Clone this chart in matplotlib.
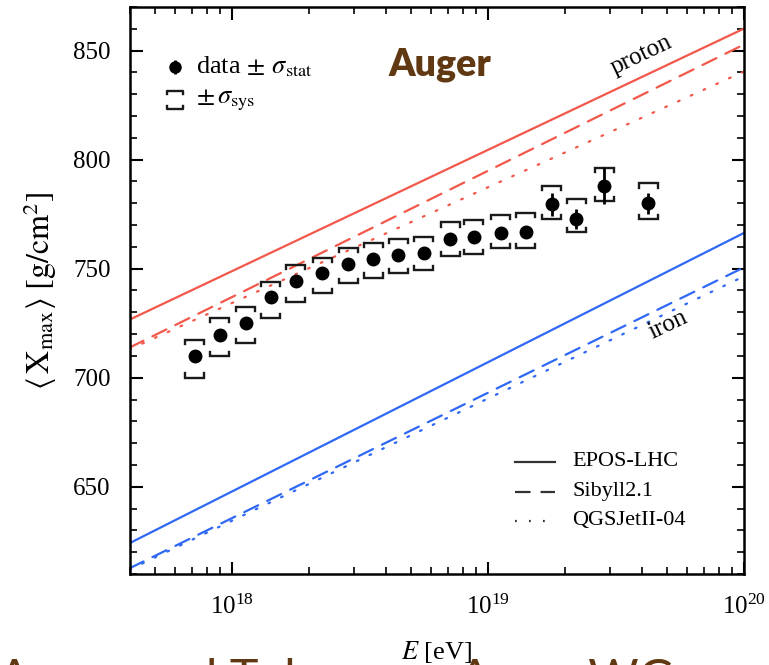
import numpy as np
import matplotlib
matplotlib.use("Agg")
import matplotlib.pyplot as plt
from matplotlib.ticker import MultipleLocator, LogLocator, NullFormatter

plt.rcParams['font.family'] = ['Liberation Serif', 'DejaVu Serif']
plt.rcParams['mathtext.fontset'] = 'stix'

# Auger <Xmax> measurements per energy bin
lg_energy = [17.855, 17.953, 18.054, 18.152, 18.25, 18.353, 18.454, 18.552, 18.65,
             18.75, 18.852, 18.945, 19.05, 19.148, 19.25, 19.344, 19.454, 19.626]
xmax_mean = [709.8, 719.8, 725.1, 736.9, 744.3, 747.8, 752.0, 754.3, 756.1,
             757.3, 763.8, 764.7, 766.2, 767.0, 779.5, 773.0, 788.0, 779.9]
stat_err = [1.5, 1.5, 1.5, 1.5, 1.5, 1.5, 1.5, 1.6, 1.7,
            1.8, 2.0, 2.2, 2.5, 2.7, 5.4, 4.6, 8.5, 5.0]
sys_up = [7.7, 7.7, 7.4, 6.9, 7.4, 7.2, 7.4, 7.4, 7.4,
          7.4, 7.4, 7.6, 8.4, 8.7, 8.4, 8.9, 8.4, 9.2]
sys_low = [9.7, 9.7, 9.2, 9.5, 9.5, 8.9, 8.4, 8.4, 8.3,
           8.0, 8.0, 7.8, 6.9, 7.4, 6.9, 6.3, 6.9, 7.2]

# Hadronic interaction model predictions (proton and iron)
lg_model = [17.6, 20.0]
p_epos = [726.6, 860.1]
p_sibyll = [713.8, 852.8]
p_qgsjet = [713.0, 840.4]
fe_epos = [624.1, 766.4]
fe_sibyll = [612.6, 750.6]
fe_qgsjet = [612.0, 746.5]

model_names = ['EPOS-LHC', 'Sibyll2.1', 'QGSJetII-04']

RED = '#f2584a'
BLUE = '#2f68f5'
BROWN = '#603913'

fig = plt.figure(figsize=(7.69, 6.65), dpi=100)
ax = fig.add_axes([130 / 769, 1 - 574 / 665, 614 / 769, 567 / 665])

E_model = 10 ** np.array(lg_model)
ls_models = ['-', (0, (7, 4.5)), (0, (0.8, 5.5))]
for vals, ls in zip([p_epos, p_sibyll, p_qgsjet], ls_models):
    ax.plot(E_model, vals, color=RED, lw=1.6, ls=ls, dash_capstyle='round')
for vals, ls in zip([fe_epos, fe_sibyll, fe_qgsjet], ls_models):
    ax.plot(E_model, vals, color=BLUE, lw=1.6, ls=ls, dash_capstyle='round')

E = 10 ** np.array(lg_energy)
xm = np.array(xmax_mean)

# systematic brackets
half = 10 ** 0.037
tick = 1.9
for e, m, su, sl in zip(E, xm, sys_up, sys_low):
    top = m + su
    bot = m - sl
    ax.plot([e / half, e / half, e * half, e * half], [top - tick, top, top, top - tick],
            color='#1a1a1a', lw=1.7, solid_joinstyle='miter')
    ax.plot([e / half, e / half, e * half, e * half], [bot + tick, bot, bot, bot + tick],
            color='#1a1a1a', lw=1.7, solid_joinstyle='miter')

ax.errorbar(E, xm, yerr=stat_err, fmt='o', color='black', ms=9,
            elinewidth=2.0, capsize=0, zorder=5)

ax.set_xscale('log')
ax.set_xlim(4e17, 1e20)
ax.set_ylim(610, 870)
ax.yaxis.set_major_locator(MultipleLocator(50))
ax.yaxis.set_minor_locator(MultipleLocator(10))
ax.xaxis.set_major_locator(LogLocator(base=10, numticks=10))
ax.xaxis.set_minor_locator(LogLocator(base=10, subs=np.arange(2, 10), numticks=20))
ax.xaxis.set_minor_formatter(NullFormatter())
ax.tick_params(which='both', direction='in', top=True, right=True, labelsize=18)
ax.tick_params(which='major', length=9, width=1.5)
ax.tick_params(which='minor', length=5, width=1.2)
ax.tick_params(axis='y', pad=14)
ax.tick_params(axis='x', pad=15)
for s in ax.spines.values():
    s.set_linewidth(1.8)

ax.set_xlabel(r'$E$ [eV]', fontsize=19, labelpad=14)
ax.set_ylabel(r'$\langle\,\mathrm{X}_{\mathrm{max}}\rangle\ [\mathrm{g/cm}^2]$', fontsize=23, labelpad=10)

# data legend (top left)
T = ax.transAxes
ax.errorbar([0.0733], [0.894], yerr=[[0.012], [0.012]], fmt='o', color='black', ms=8,
            elinewidth=2, capsize=0, transform=T, clip_on=False)
ax.text(0.108, 0.894, r'data$\,\pm\,\sigma_{\mathrm{stat}}$', transform=T, fontsize=19,
        va='center', ha='left')
bx0, bx1 = 0.0733 - 0.013, 0.0733 + 0.013
ax.plot([bx0, bx0, bx1, bx1], [0.846, 0.852, 0.852, 0.846], color='#1a1a1a', lw=1.7, transform=T)
ax.plot([bx0, bx0, bx1, bx1], [0.826, 0.820, 0.820, 0.826], color='#1a1a1a', lw=1.7, transform=T)
ax.text(0.108, 0.836, r'$\pm\,\sigma_{\mathrm{sys}}$', transform=T, fontsize=19,
        va='center', ha='left')

ax.text(0.505, 0.898, 'Auger', transform=T, fontsize=27, fontweight='heavy',
        family='Lato', color=BROWN, ha='center', va='center')

# primary labels along the model lines
ax.text(0.832, 0.915, 'proton', transform=T, fontsize=18, rotation=25.4,
        ha='center', va='center')
ax.text(0.876, 0.44, 'iron', transform=T, fontsize=18, rotation=25.4,
        ha='center', va='center')

# model legend (bottom right)
leg_y = [0.198, 0.145, 0.094]
for name, ls, yy in zip(model_names, ls_models, leg_y):
    ax.plot([0.627, 0.692], [yy, yy], color='#333333', lw=1.6, ls=ls, transform=T)
    ax.text(0.72, yy, name, transform=T, fontsize=16, va='center', ha='left')

# slide caption running off the lower edge
fig.text(-0.002, 0.011, 'Auger and Telescope Array WG', fontsize=35, family='Lato',
         color=BROWN, ha='left', va='top')

fig.savefig('out.png', dpi=100)
